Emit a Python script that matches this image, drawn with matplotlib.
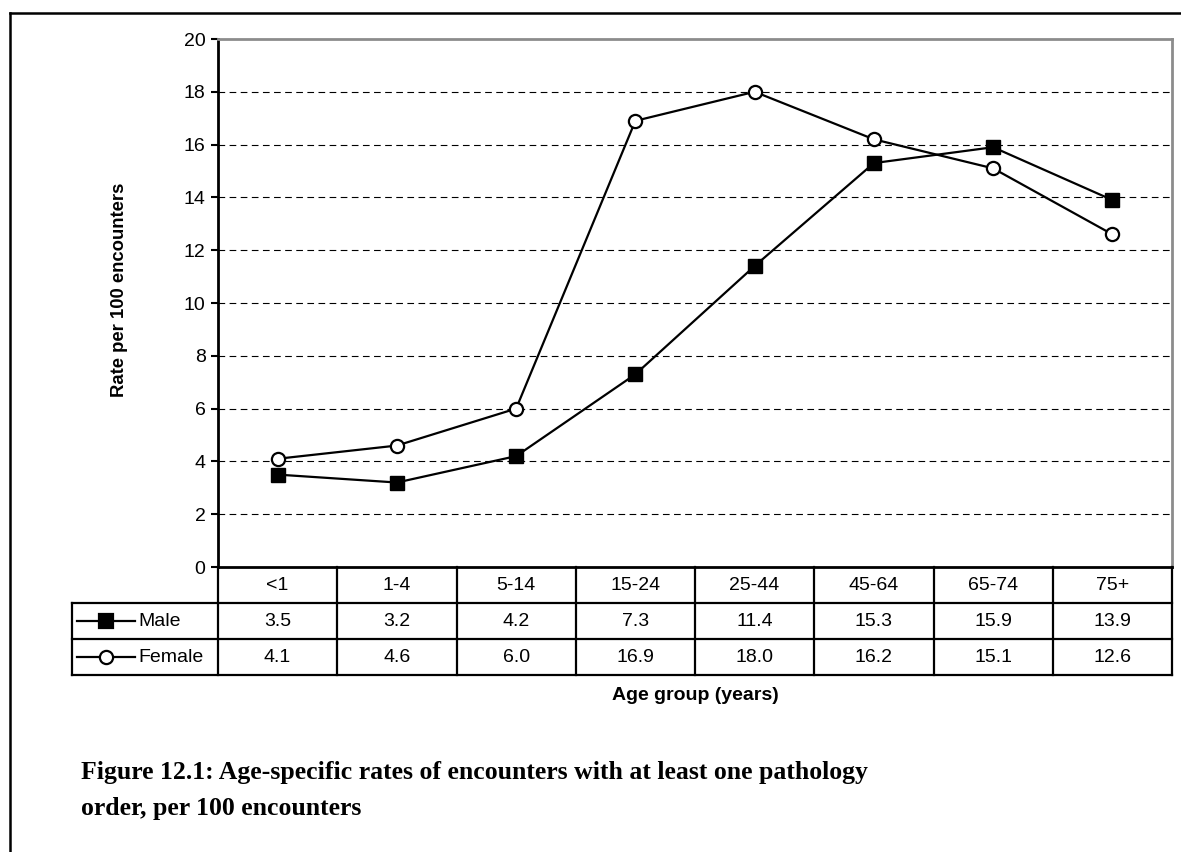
import numpy as np
import matplotlib
matplotlib.use("Agg")
import matplotlib.pyplot as plt
from matplotlib.lines import Line2D

plt.rcParams['font.family'] = ['Liberation Sans', 'DejaVu Sans']

# Data.

age_groups = ["<1", "1-4", "5-14", "15-24", "25-44", "45-64", "65-74", "75+"]
male = [3.5, 3.2, 4.2, 7.3, 11.4, 15.3, 15.9, 13.9]
female = [4.1, 4.6, 6.0, 16.9, 18.0, 16.2, 15.1, 12.6]
series_names = ["Male", "Female"]
y_ticks = [0, 2, 4, 6, 8, 10, 12, 14, 16, 18, 20]

W, H = 1181, 852


def fx(x):
    return x / W


def fy(y):
    return 1 - y / H


fig = plt.figure(figsize=(W / 100, H / 100), dpi=100)

# Plot area in pixel terms.
left, right, top, bottom = 218, 1172, 39, 567
ax = fig.add_axes([fx(left), fy(bottom), fx(right) - fx(left), fy(top) - fy(bottom)])

x = np.arange(len(age_groups))
ax.plot(x, male, color="black", lw=1.6, marker="s", ms=10.5,
        mfc="black", mec="black", zorder=3)
ax.plot(x, female, color="black", lw=1.6, marker="o", ms=9.5,
        mfc="white", mec="black", mew=1.6, zorder=4)

ax.set_xlim(-0.5, len(age_groups) - 0.5)
ax.set_ylim(0, 20)
ax.set_yticks(y_ticks)
ax.set_xticks([])
ax.tick_params(axis="y", direction="out", length=5, width=1.5, labelsize=14, pad=4)
for t in y_ticks[1:-1]:
    ax.axhline(t, color="black", lw=0.8, dashes=(6, 4), zorder=1)

ax.spines["left"].set_linewidth(2)
ax.spines["bottom"].set_linewidth(2)
ax.spines["top"].set_color("#8c8c8c")
ax.spines["top"].set_linewidth(2)
ax.spines["right"].set_color("#8c8c8c")
ax.spines["right"].set_linewidth(2)

# Data table below the plot.
tab_left = 72
col_w = (right - left) / len(age_groups)
rows = [567, 603, 639, 675]
lw_tab = 1.6
fs_tab = 14


def hline(y, x0, x1):
    fig.add_artist(Line2D([fx(x0), fx(x1)], [fy(y), fy(y)], color="black",
                          lw=lw_tab, transform=fig.transFigure))


def vline(xp, y0, y1):
    fig.add_artist(Line2D([fx(xp), fx(xp)], [fy(y0), fy(y1)], color="black",
                          lw=lw_tab, transform=fig.transFigure))


hline(rows[1], tab_left, right)
hline(rows[2], tab_left, right)
hline(rows[3], tab_left, right)
vline(tab_left, rows[1], rows[3])
for i in range(len(age_groups) + 1):
    vline(left + i * col_w, rows[0], rows[3])

for i, lab in enumerate(age_groups):
    cx = left + (i + 0.5) * col_w
    fig.text(fx(cx), fy((rows[0] + rows[1]) / 2), lab, ha="center", va="center", fontsize=fs_tab)
    fig.text(fx(cx), fy((rows[1] + rows[2]) / 2), f"{male[i]:.1f}", ha="center", va="center", fontsize=fs_tab)
    fig.text(fx(cx), fy((rows[2] + rows[3]) / 2), f"{female[i]:.1f}", ha="center", va="center", fontsize=fs_tab)

# Legend keys inside the table.
keys = [("s", "black", 10.5), ("o", "white", 9.5)]
for r, (name, (mk, fc, ms)) in enumerate(zip(series_names, keys)):
    yc = fy((rows[r + 1] + rows[r + 2]) / 2)
    fig.add_artist(Line2D([fx(77), fx(135)], [yc, yc], color="black", lw=1.6,
                          transform=fig.transFigure))
    fig.add_artist(Line2D([fx(106)], [yc], marker=mk, ms=ms, mfc=fc, mec="black",
                          mew=1.6, color="black", transform=fig.transFigure))
    fig.text(fx(138), yc, name, ha="left", va="center", fontsize=fs_tab)

# Axis titles.
fig.text(fx(120), fy(290), "Rate per 100 encounters", rotation=90, ha="center",
         va="center", fontsize=13.3, fontweight="bold")
fig.text(fx(695), fy(695), "Age group (years)", ha="center", va="center",
         fontsize=14, fontweight="bold")

# Caption.
fig.text(fx(81), fy(773), "Figure 12.1: Age-specific rates of encounters with at least one pathology",
         ha="left", va="center", fontsize=18.5, fontweight="bold", family="Liberation Serif")
fig.text(fx(81), fy(809), "order, per 100 encounters",
         ha="left", va="center", fontsize=18.5, fontweight="bold", family="Liberation Serif")

# Page frame (top and left edges).
fig.add_artist(Line2D([fx(10), fx(W)], [fy(13), fy(13)], color="black", lw=1.8,
                      transform=fig.transFigure))
fig.add_artist(Line2D([fx(10), fx(10)], [fy(13), fy(H)], color="black", lw=1.8,
                      transform=fig.transFigure))

fig.savefig("out.png", dpi=100)
